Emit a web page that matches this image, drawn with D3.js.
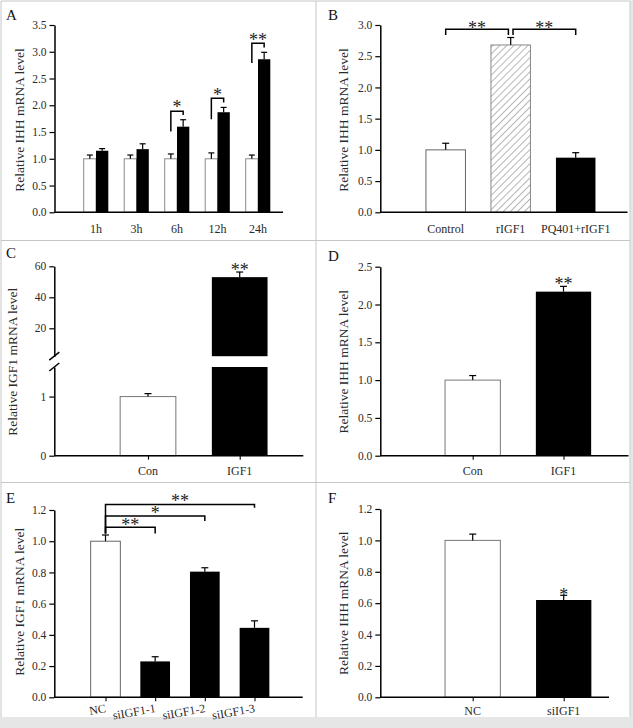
<!DOCTYPE html>
<html><head><meta charset="utf-8">
<script src="https://cdn.jsdelivr.net/npm/d3@7"></script>
<style>
body{margin:0;background:#fff}
svg{display:block}
text{font-family:"Liberation Serif","Times New Roman",serif}
</style>
</head><body>
<svg id="chart" width="633" height="728"></svg>
<script>
// ---------------- DATA ----------------
// Panel A
const aCategories = ["1h", "3h", "6h", "12h", "24h"];
const aControl = [1.0, 1.0, 1.0, 1.0, 1.0];
const aControlErr = [0.07, 0.07, 0.09, 0.11, 0.07];
const aTreated = [1.15, 1.18, 1.60, 1.87, 2.86];
const aTreatedErr = [0.04, 0.10, 0.13, 0.09, 0.13];
const aYTicks = [0, 0.5, 1.0, 1.5, 2.0, 2.5, 3.0, 3.5];
const aSigCats = ["6h", "12h", "24h"];
const aSigLeft = [1.51, 1.74, 2.79];
const aSigTop = [1.89, 2.13, 3.16];
const aSigRight = [1.82, 2.05, 3.08];
const aSigLabels = ["*", "*", "**"];
const aSigLabelY = [2.02, 2.24, 3.28];

// Panel B
const bCategories = ["Control", "rIGF1", "PQ401+rIGF1"];
const bValues = [1.0, 2.68, 0.875];
const bErr = [0.106, 0.12, 0.08];
const bYTicks = [0, 0.5, 1.0, 1.5, 2.0, 2.5, 3.0];
const bSigFrom = ["Control", "rIGF1"];
const bSigTo = ["rIGF1", "PQ401+rIGF1"];
const bSigTop = [2.93, 2.93];
const bSigBottom = [2.84, 2.84];
const bSigLabels = ["**", "**"];
const bSigLabelY = [3.0, 3.0];

// Panel C (broken axis)
const cCategories = ["Con", "IGF1"];
const cValues = [1.0, 53.0];
const cErr = [0.05, 3.3];
const cLowerTicks = [0, 1];
const cUpperTicks = [20, 40, 60];
const cLowerDomain = [0, 1.5];
const cUpperDomain = [2, 60];
const cSigLabel = "**";
const cSigLabelY = 59.7;

// Panel D
const dCategories = ["Con", "IGF1"];
const dValues = [1.0, 2.17];
const dErr = [0.06, 0.07];
const dYTicks = [0, 0.5, 1.0, 1.5, 2.0, 2.5];
const dSigLabel = "**";
const dSigLabelY = 2.31;

// Panel E
const eCategories = ["NC", "siIGF1-1", "siIGF1-2", "siIGF1-3"];
const eValues = [1.0, 0.23, 0.805, 0.445];
const eErr = [0.04, 0.03, 0.025, 0.045];
const eYTicks = [0, 0.2, 0.4, 0.6, 0.8, 1.0, 1.2];
const eSigTo = ["siIGF1-1", "siIGF1-2", "siIGF1-3"];
const eSigTop = [1.089, 1.161, 1.236];
const eSigRight = [1.05, 1.129, 1.215];
const eSigLeft = 1.05;
const eSigLabels = ["**", "*", "**"];
const eSigLabelY = [1.125, 1.2, 1.279];

// Panel F
const fCategories = ["NC", "siIGF1"];
const fValues = [1.0, 0.62];
const fErr = [0.04, 0.03];
const fYTicks = [0, 0.2, 0.4, 0.6, 0.8, 1.0, 1.2];
const fSigLabel = "*";
const fSigLabelY = 0.67;

// ---------------- DRAWING ----------------
const svg = d3.select("#chart");
const FONT = '"Liberation Serif","Times New Roman",serif';
const TXT = "#2a2a2a";
const fmt1 = d3.format(".1f");

// hatch pattern
const defs = svg.append("defs");
const pat = defs.append("pattern").attr("id", "hatch").attr("patternUnits", "userSpaceOnUse")
  .attr("width", 5).attr("height", 5).attr("patternTransform", "rotate(45)");
pat.append("rect").attr("width", 5).attr("height", 5).attr("fill", "#fff");
pat.append("line").attr("x1", 0).attr("y1", 0).attr("x2", 0).attr("y2", 5)
  .attr("stroke", "#777").attr("stroke-width", 1.1);

// frame
svg.append("rect").attr("x", 0).attr("y", 717).attr("width", 633).attr("height", 11).attr("fill", "#e6e6e6");
svg.append("rect").attr("x", 630.5).attr("y", 0).attr("width", 2.5).attr("height", 728).attr("fill", "#e6e6e6");
const frameLines = [[1, 1, 630, 1], [1, 1, 1, 717], [630, 1, 630, 717], [316, 1, 316, 717], [1, 240.5, 630, 240.5], [1, 482.5, 630, 482.5]];
svg.selectAll(".frame").data(frameLines).enter().append("line")
  .attr("x1", d => d[0]).attr("y1", d => d[1]).attr("x2", d => d[2]).attr("y2", d => d[3])
  .attr("stroke", "#c6c6c6").attr("stroke-width", 1);

function yAxis(x, scale, ticks, fmt) {
  const g = svg.append("g").attr("transform", `translate(${x},0)`)
    .call(d3.axisLeft(scale).tickValues(ticks).tickFormat(fmt).tickSize(5).tickSizeOuter(0).tickPadding(3));
  g.attr("font-family", FONT).attr("font-size", 11.5);
  g.select(".domain").attr("stroke", "#000").attr("stroke-width", 1.5);
  g.selectAll(".tick line").attr("stroke", "#000").attr("stroke-width", 1.2);
  g.selectAll(".tick text").attr("fill", TXT);
  return g;
}
function xAxisLine(x0, x1, y) {
  svg.append("line").attr("x1", x0).attr("x2", x1).attr("y1", y).attr("y2", y)
    .attr("stroke", "#000").attr("stroke-width", 1.5);
}
function xTicks(scale, y, size) {
  const g = svg.append("g").attr("transform", `translate(0,${y})`)
    .call(d3.axisBottom(scale).tickSize(size).tickSizeOuter(0).tickFormat(""));
  g.select(".domain").remove();
  g.selectAll(".tick line").attr("stroke", "#000").attr("stroke-width", 1.1);
}
function xLabels(scale, cats, y, size) {
  svg.append("g").selectAll("text").data(cats).enter().append("text")
    .attr("x", d => scale(d)).attr("y", y).attr("text-anchor", "middle")
    .attr("font-size", size || 12).attr("fill", TXT).text(d => d);
}
function yLabel(x, y, txt) {
  svg.append("text").attr("transform", `translate(${x},${y}) rotate(-90)`)
    .attr("text-anchor", "middle").attr("font-size", 13.5).attr("fill", TXT).text(txt);
}
function panelLetter(x, y, t) {
  svg.append("text").attr("x", x).attr("y", y).attr("font-size", 15).attr("fill", "#111").text(t);
}
function bar(x, w, y0, y1, fill, stroke) {
  svg.append("rect").attr("x", x).attr("y", Math.min(y0, y1)).attr("width", w)
    .attr("height", Math.abs(y1 - y0)).attr("fill", fill)
    .attr("stroke", stroke || "none").attr("stroke-width", stroke ? 1 : 0);
}
function errBar(cx, yTop, yErr, cap) {
  svg.append("line").attr("x1", cx).attr("x2", cx).attr("y1", yTop).attr("y2", yErr)
    .attr("stroke", "#000").attr("stroke-width", 1.2);
  svg.append("line").attr("x1", cx - cap / 2).attr("x2", cx + cap / 2).attr("y1", yErr).attr("y2", yErr)
    .attr("stroke", "#000").attr("stroke-width", 1.2);
}
function bracket(xl, xr, yl, yt, yr) {
  svg.append("path").attr("d", `M${xl},${yl}V${yt}H${xr}V${yr}`)
    .attr("fill", "none").attr("stroke", "#000").attr("stroke-width", 1.5);
}
function star(x, yCenter, t) {
  svg.append("text").attr("x", x).attr("y", yCenter + 9).attr("text-anchor", "middle")
    .attr("font-size", 18).attr("fill", "#222").text(t);
}

// ---- Panel A ----
{
  const x = d3.scalePoint().domain(aCategories).range([96, 258]);
  const y = d3.scaleLinear().domain([0, 3.5]).range([212.3, 25]);
  const bw = 12.3;
  aCategories.forEach((c, i) => {
    bar(x(c) - bw, bw, y(0), y(aControl[i]), "#fff", "#8a8a8a");
    errBar(x(c) - bw / 2, y(aControl[i]), y(aControl[i] + aControlErr[i]), 6);
    bar(x(c), bw, y(0), y(aTreated[i]), "#000");
    errBar(x(c) + bw / 2, y(aTreated[i]), y(aTreated[i] + aTreatedErr[i]), 6);
  });
  yAxis(54.5, y, aYTicks, fmt1);
  xAxisLine(54.5, 283, 212.3);
  xLabels(x, aCategories, 233.3);
  aSigCats.forEach((c, i) => {
    bracket(x(c) - bw / 2, x(c) + bw / 2, y(aSigLeft[i]), y(aSigTop[i]), y(aSigRight[i]));
    star(x(c), y(aSigLabelY[i]), aSigLabels[i]);
  });
  yLabel(24, 120, "Relative IHH mRNA level");
  panelLetter(6, 20, "A");
}

// ---- Panel B ----
{
  const x = d3.scalePoint().domain(bCategories).range([445.7, 575.7]);
  const y = d3.scaleLinear().domain([0, 3]).range([212.3, 25]);
  const bw = 39.5;
  const fills = ["#fff", "url(#hatch)", "#000"];
  const strokes = ["#666", "#888", null];
  bCategories.forEach((c, i) => {
    bar(x(c) - bw / 2, bw, y(0), y(bValues[i]), fills[i], strokes[i]);
    errBar(x(c), y(bValues[i]), y(bValues[i] + bErr[i]), 7);
  });
  yAxis(380.3, y, bYTicks, fmt1);
  xAxisLine(380.3, 627.5, 212.3);
  xLabels(x, bCategories, 233.3);
  bSigFrom.forEach((f, i) => {
    const xl = x(f) + (i === 1 ? 2.3 : 0);
    const xr = x(bSigTo[i]) - (i === 0 ? 2.3 : 0);
    bracket(xl, xr, y(bSigBottom[i]), y(bSigTop[i]), y(bSigBottom[i]));
    star((xl + xr) / 2, y(bSigLabelY[i]), bSigLabels[i]);
  });
  yLabel(347.7, 120, "Relative IHH mRNA level");
  panelLetter(328, 20, "B");
}

// ---- Panel C ----
{
  const x = d3.scalePoint().domain(cCategories).range([148, 239.7]);
  const yLow = d3.scaleLinear().domain(cLowerDomain).range([455.7, 367]);
  const yUp = d3.scaleLinear().domain(cUpperDomain).range([356.2, 266.3]);
  const bw = 55.7;
  const fills = ["#fff", "#000"];
  cCategories.forEach((c, i) => {
    const v = cValues[i];
    if (v <= cLowerDomain[1]) {
      bar(x(c) - bw / 2, bw, yLow(0), yLow(v), fills[i], "#777");
      errBar(x(c), yLow(v), yLow(v + cErr[i]), 7);
    } else {
      bar(x(c) - bw / 2, bw, yLow(0), yLow(cLowerDomain[1]), fills[i]);
      bar(x(c) - bw / 2, bw, yUp(cUpperDomain[0]), yUp(v), fills[i]);
      errBar(x(c), yUp(v), yUp(v + cErr[i]), 7);
      star(x(c), yUp(cSigLabelY), cSigLabel);
    }
  });
  const ax = 54.3;
  yAxis(ax, yLow, cLowerTicks, d3.format("d"));
  yAxis(ax, yUp, cUpperTicks, d3.format("d"));
  [yLow(cLowerDomain[1]), yUp(cUpperDomain[0])].forEach(yy => {
    svg.append("line").attr("x1", ax - 5).attr("x2", ax + 5).attr("y1", yy + 4).attr("y2", yy - 4)
      .attr("stroke", "#000").attr("stroke-width", 1.5);
  });
  xAxisLine(ax, 303.3, 455.7);
  xTicks(x, 455.7, 4);
  xLabels(x, cCategories, 474.5);
  yLabel(17, 361.7, "Relative IGF1 mRNA level");
  panelLetter(6, 258, "C");
}

// ---- Panel D ----
{
  const x = d3.scalePoint().domain(dCategories).range([472.7, 563.5]);
  const y = d3.scaleLinear().domain([0, 2.5]).range([455.7, 266.7]);
  const bw = 55.3;
  const fills = ["#fff", "#000"];
  dCategories.forEach((c, i) => {
    bar(x(c) - bw / 2, bw, y(0), y(dValues[i]), fills[i], i === 0 ? "#777" : null);
    errBar(x(c), y(dValues[i]), y(dValues[i] + dErr[i]), 7);
  });
  star(x(dCategories[1]), y(dSigLabelY), dSigLabel);
  yAxis(380.3, y, dYTicks, fmt1);
  xAxisLine(380.3, 628.5, 455.7);
  xTicks(x, 455.7, 4);
  xLabels(x, dCategories, 475);
  yLabel(347.7, 361.7, "Relative IHH mRNA level");
  panelLetter(328, 260.5, "D");
}

// ---- Panel E ----
{
  const x = d3.scalePoint().domain(eCategories).range([105.5, 254.5]);
  const y = d3.scaleLinear().domain([0, 1.2]).range([697.3, 510]);
  const bw = 29.7;
  eCategories.forEach((c, i) => {
    bar(x(c) - bw / 2, bw, y(0), y(eValues[i]), i === 0 ? "#fff" : "#000", i === 0 ? "#666" : null);
    errBar(x(c), y(eValues[i]), y(eValues[i] + eErr[i]), 7);
  });
  yAxis(54.3, y, eYTicks, fmt1);
  xAxisLine(54.3, 302.7, 697.3);
  xTicks(x, 697.3, 4);
  svg.append("g").selectAll("text").data(eCategories).enter().append("text")
    .attr("transform", d => `translate(${x(d) + 1},${712}) rotate(-10)`)
    .attr("text-anchor", "end").attr("font-size", 12).attr("fill", TXT).text(d => d);
  eSigTo.forEach((t, i) => {
    const xl = x(eCategories[0]), xr = x(t);
    bracket(xl, xr, y(eSigLeft), y(eSigTop[i]), y(eSigRight[i]));
    star((xl + xr) / 2, y(eSigLabelY[i]), eSigLabels[i]);
  });
  yLabel(24, 601.7, "Relative IGF1 mRNA level");
  panelLetter(6, 503, "E");
}

// ---- Panel F ----
{
  const x = d3.scalePoint().domain(fCategories).range([472.7, 563.7]);
  const y = d3.scaleLinear().domain([0, 1.2]).range([697.3, 509]);
  const bw = 55.3;
  fCategories.forEach((c, i) => {
    bar(x(c) - bw / 2, bw, y(0), y(fValues[i]), i === 0 ? "#fff" : "#000", i === 0 ? "#777" : null);
    errBar(x(c), y(fValues[i]), y(fValues[i] + fErr[i]), 7);
  });
  star(x(fCategories[1]), y(fSigLabelY), fSigLabel);
  yAxis(380.3, y, fYTicks, fmt1);
  xAxisLine(380.3, 609, 697.3);
  xTicks(x, 697.3, 4);
  xLabels(x, fCategories, 715);
  yLabel(347.7, 603.3, "Relative IHH mRNA level");
  panelLetter(328, 503, "F");
}
</script>
</body></html>
